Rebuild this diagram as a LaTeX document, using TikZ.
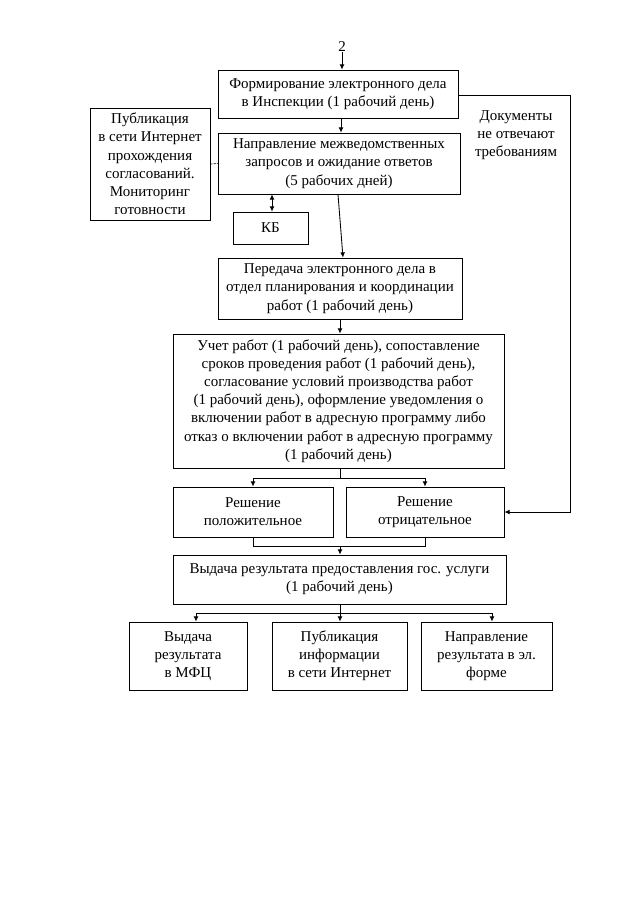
\documentclass[tikz,border=0pt]{standalone}
\usepackage{fontspec}
\setmainfont{Liberation Serif}
\usetikzlibrary{arrows.meta}
\def\u{0.328125mm}
\tikzset{
  box/.style={draw, line width=0.8pt, align=center, inner sep=0pt,
    font=\fontsize{14pt}{17pt}\selectfont},
  plain/.style={align=center, inner sep=0pt, font=\fontsize{14pt}{17pt}\selectfont},
  tip/.style={Latex[length=1.7mm,width=1.6mm]},
  arr/.style={line width=0.8pt, -{Latex[length=1.7mm,width=1.6mm]}},
  ln/.style={line width=0.8pt},
}
\begin{document}
\begin{tikzpicture}[x=\u, y=-\u]
\useasboundingbox (0,0) rectangle (640,905);
\node[plain] (num) at (342,47) {2};
\node[box, minimum width=240*\u, minimum height=48*\u] (b1) at (338,94)
  {Формирование электронного дела\\в Инспекции (1 рабочий день)};
\node[box, minimum width=242*\u, minimum height=61*\u] (b2) at (339,163.5)
  {Направление межведомственных\\запросов и ожидание ответов\\(5 рабочих дней)};
\node[box, minimum width=120*\u, minimum height=112*\u] (pub) at (150,164)
  {Публикация\\в сети Интернет\\прохождения\\согласований.\\Мониторинг\\готовности};
\node[box, minimum width=75*\u, minimum height=32*\u] (kb) at (270.5,228) {КБ};
\node[box, minimum width=244*\u, minimum height=61*\u] (b3) at (340,288.5)
  {Передача электронного дела в\\отдел планирования и координации\\работ (1 рабочий день)};
\node[box, minimum width=331*\u, minimum height=134*\u] (b4) at (338.5,401)
  {Учет работ (1 рабочий день), сопоставление\\сроков проведения работ (1 рабочий день),\\согласование условий производства работ\\(1 рабочий день), оформление уведомления о\\включении работ в адресную программу либо\\отказ о включении работ в адресную программу\\(1 рабочий день)};
\node[box, minimum width=160*\u, minimum height=50*\u] (b5) at (253,512)
  {Решение\\положительное};
\node[box, minimum width=158*\u, minimum height=50*\u] (b6) at (425,512)
  {Решение\\отрицательное};
\node[box, minimum width=333*\u, minimum height=49*\u] (b7) at (339.5,579.5)
  {Выдача результата предоставления гос. услуги\\(1 рабочий день)};
\node[box, minimum width=118*\u, minimum height=68*\u] (b8) at (188,656)
  {Выдача\\результата\\в МФЦ};
\node[box, minimum width=135*\u, minimum height=68*\u] (b9) at (339.5,656)
  {Публикация\\информации\\в сети Интернет};
\node[box, minimum width=131*\u, minimum height=68*\u] (b10) at (486.5,656)
  {Направление\\результата в эл.\\форме};
\node[plain] (docs) at (516,135) {Документы\\не отвечают\\требованиям};
% connectors
\draw[arr] (num.south) -- (num.south |- b1.north);
\draw[arr] (b1.south -| 341,0) -- (b2.north -| 341,0);
\draw[ln, line width=0.6pt, dash pattern=on 2pt off 1pt] (pub.east) -- (b2.west);
\draw[line width=0.8pt, {Latex[length=1.7mm,width=1.6mm]}-{Latex[length=1.7mm,width=1.6mm]}] (kb.north -| 272,0) -- (b2.south -| 272,0);
\draw[arr] ([xshift=-1*\u]b2.south) -- ([xshift=3*\u]b3.north);
\coordinate (rc) at (570,95);
\draw[arr] (b1.east |- rc) -- (rc) |- (b6.east);
\draw[arr] (b3.south) -- (b3.south |- b4.north);
\coordinate (j1) at (340,478);
\draw[ln] (b4.south -| j1) -- (j1);
\draw[arr] (j1) -| (b5.north);
\draw[arr] (j1) -| (b6.north);
\coordinate (j2) at (340,546);
\draw[ln] (b5.south) |- (j2);
\draw[ln] (b6.south) |- (j2);
\draw[arr] (j2) -- (j2 |- b7.north);
\coordinate (j3) at (340,613);
\draw[ln] (b7.south -| j3) -- (j3);
\draw[arr] (j3) -| ([xshift=8*\u]b8.north);
\draw[arr] (j3) -- (j3 |- b9.north);
\draw[arr] (j3) -| ([xshift=5.5*\u]b10.north);
\end{tikzpicture}
\end{document}
